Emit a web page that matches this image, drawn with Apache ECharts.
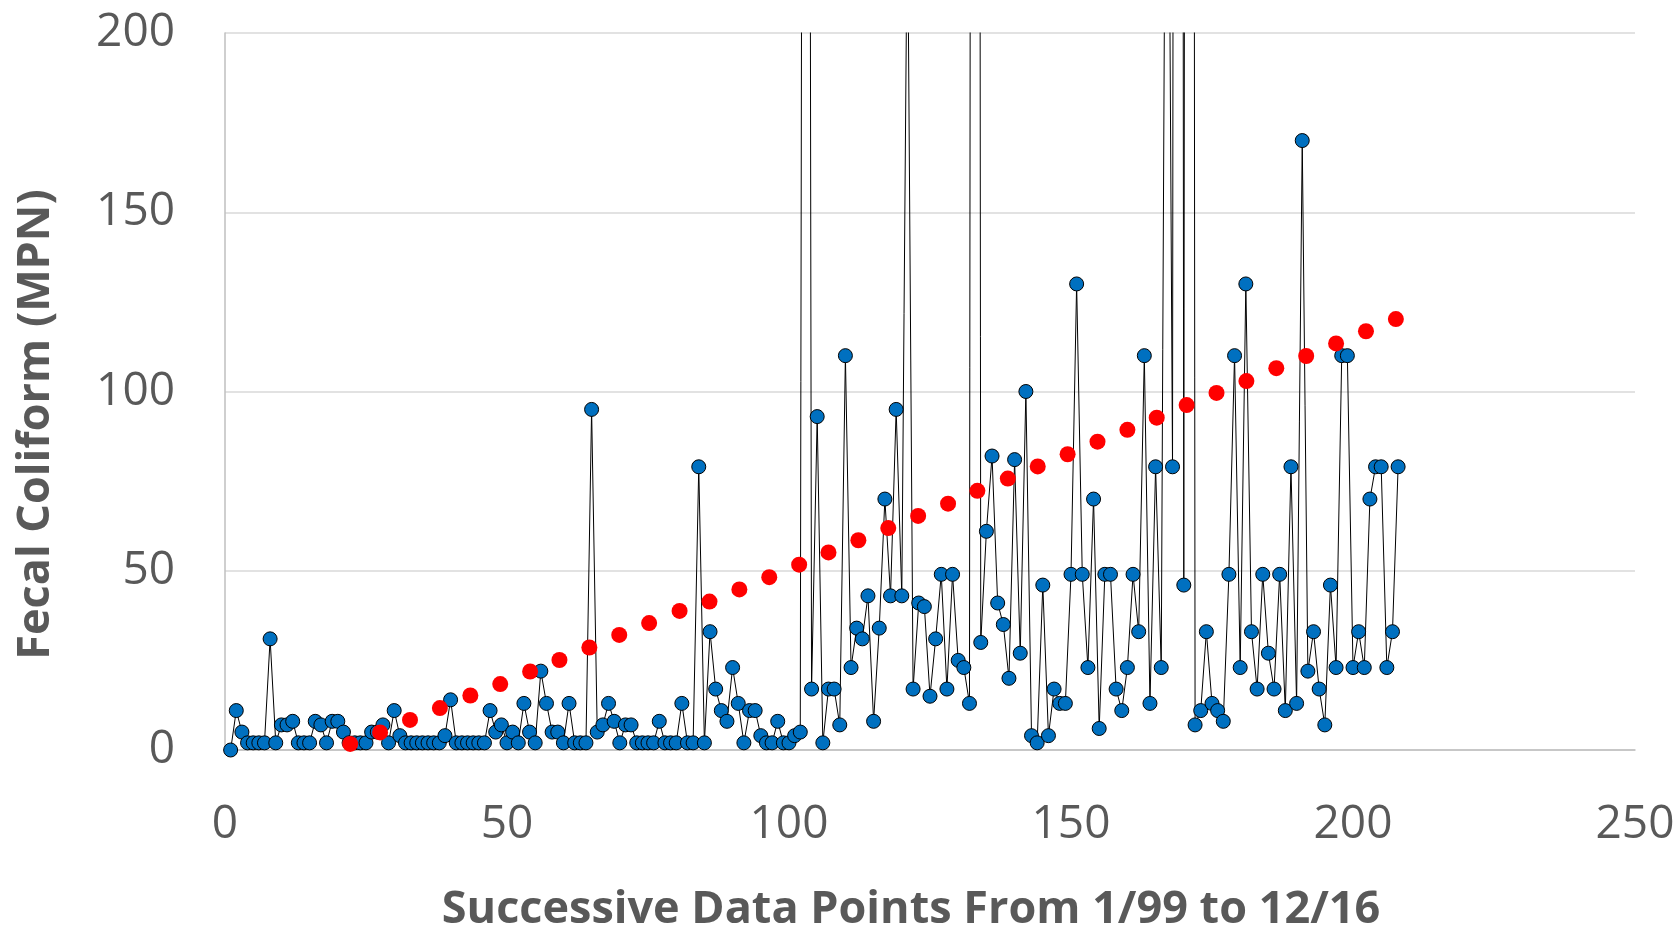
<!DOCTYPE html>
<html>
<head>
<meta charset="utf-8">
<script src="https://cdn.jsdelivr.net/npm/echarts@6/dist/echarts.min.js"></script>
<style>
html,body{margin:0;padding:0;background:#fff;}
#chart{width:1679px;height:938px;}
</style>
</head>
<body>
<div id="chart"></div>
<script>
// Blue series: fecal coliform MPN per successive sample (x = 1..N)
const coliformValues = [
  0,11,5,2,2,2,2,31,2,7, 7,8,2,2,2,8,7,2,8,8,
  5,2,2,2,2,5,5,7,2,11, 4,2,2,2,2,2,2,2,4,14,
  2,2,2,2,2,2,11,5,7,2, 5,2,13,5,2,22,13,5,5,2,
  13,2,2,2,95,5,7,13,8,2, 7,7,2,2,2,2,8,2,2,2,
  13,2,2,79,2,33,17,11,8,23, 13,2,11,11,4,2,2,8,2,2,
  4,5,920,17,93,2,17,17,7,110, 23,34,31,43,8,34,70,43,95,43,
  240,17,41,40,15,31,49,17,49,25, 23,13,1600,30,61,82,41,35,20,81,
  27,100,4,2,46,4,17,13,13,49, 130,49,23,70,6,49,49,17,11,23,
  49,33,110,13,79,23,350,79,1600,46, 1600,7,11,33,13,11,8,49,110,23,
  130,33,17,49,27,17,49,11,79,13, 170,22,33,17,7,46,23,110,110,23,
  33,23,70,79,79,23,33,79
];
// Red series (trend markers)
const trendX = [17,22.2,27.5,32.8,38.1,43.5,48.8,54.1,59.3,64.6,69.9,75.2,80.6,85.9,91.2,96.5,101.8,107.0,112.3,117.6,122.9,128.2,133.4,138.8,144.1,149.4,154.7,160.0,165.2,170.5,175.8,181.1,186.4,191.7,197.0,202.3,207.6];
const trendY = [-1.5,1.7,4.9,8.4,11.7,15.2,18.4,21.9,25.1,28.6,32.1,35.4,38.8,41.4,44.8,48.2,51.7,55.1,58.5,61.9,65.3,68.7,72.3,75.7,79.1,82.5,86.0,89.3,92.7,96.2,99.6,102.9,106.5,109.9,113.4,116.8,120.2];
const xTicks = [0, 50, 100, 150, 200, 250];
const yTicks = [0, 50, 100, 150, 200];
const xTitle = 'Successive Data Points From 1/99 to 12/16';
const yTitle = 'Fecal Coliform (MPN)';

const blueData = coliformValues.map((v, i) => [i + 1, v]);
const redData = trendX.map((x, i) => [x, trendY[i]]);

const FONT = '"Open Sans", "Liberation Sans", sans-serif';
const chart = echarts.init(document.getElementById('chart'), null, {renderer: 'canvas'});
chart.setOption({
  animation: false,
  backgroundColor: '#ffffff',
  grid: {left: 225, right: 44, top: 33, bottom: 186, containLabel: false},
  xAxis: {
    type: 'value', min: xTicks[0], max: xTicks[xTicks.length - 1], interval: 50,
    name: xTitle, nameLocation: 'middle', nameGap: 138,
    nameTextStyle: {fontFamily: FONT, fontSize: 45, fontWeight: 'bold', color: '#595959', padding: [0, 38, 0, 0]},
    axisLine: {show: true, onZero: false, lineStyle: {color: '#BFBFBF', width: 1.5}},
    axisTick: {show: false},
    splitLine: {show: false},
    axisLabel: {fontFamily: FONT, fontSize: 46, color: '#595959', margin: 52}
  },
  yAxis: {
    type: 'value', min: yTicks[0], max: yTicks[yTicks.length - 1], interval: 50,
    name: yTitle, nameLocation: 'middle', nameGap: 166, nameRotate: 90,
    nameTextStyle: {fontFamily: FONT, fontSize: 45, fontWeight: 'bold', color: '#595959', padding: [0, 66, 0, 0]},
    axisLine: {show: true, lineStyle: {color: '#BFBFBF', width: 1.5}},
    axisTick: {show: false},
    splitLine: {show: true, lineStyle: {color: '#D9D9D9', width: 1.5}},
    axisLabel: {fontFamily: FONT, fontSize: 46, color: '#595959', margin: 50}
  },
  series: [
    {
      type: 'line', data: blueData, clip: true,
      symbol: 'circle', symbolSize: 14, showAllSymbol: true,
      lineStyle: {color: '#000000', width: 1},
      itemStyle: {color: '#0070C0', borderColor: '#000000', borderWidth: 1},
      z: 2
    },
    {
      type: 'scatter', data: redData, clip: true,
      symbol: 'circle', symbolSize: 16,
      itemStyle: {color: '#FF0000', opacity: 1},
      z: 3
    }
  ]
});
</script>
</body>
</html>
